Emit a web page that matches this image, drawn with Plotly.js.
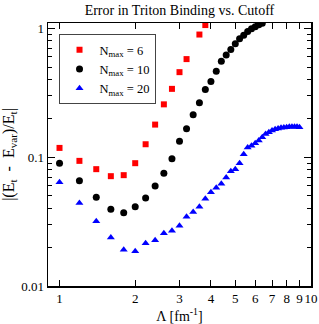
<!DOCTYPE html>
<html>
<head>
<meta charset="utf-8">
<script src="https://cdn.plot.ly/plotly-3.0.1.min.js"></script>
<style>html,body{margin:0;padding:0;background:#fff;}#chart{width:319px;height:324px;}</style>
</head>
<body>
<div id="chart"></div>
<script>
// Cutoff values (fm^-1) and relative errors
var lambda6 = [1.0, 1.2, 1.4, 1.6, 1.8, 2.0, 2.2, 2.4, 2.6, 2.8, 3.0, 3.2, 3.6, 3.8];
var err6 = [0.118, 0.0936, 0.0807, 0.0712, 0.0725, 0.0898, 0.126, 0.179, 0.257, 0.339, 0.457, 0.577, 0.895, 1.06];

var lambda10 = [1.0, 1.2, 1.4, 1.6, 1.8, 2.0, 2.2, 2.4, 2.6, 2.8, 3.0, 3.2, 3.4, 3.6, 3.8, 4.0, 4.2, 4.4, 4.6, 4.8, 5.0, 5.2, 5.4, 5.6, 5.8, 6.0, 6.2, 6.4];
var err10 = [0.0898, 0.0655, 0.0489, 0.0395, 0.0371, 0.0413, 0.0481, 0.0597, 0.0751, 0.097, 0.133, 0.166, 0.213, 0.265, 0.335, 0.386, 0.465, 0.556, 0.622, 0.684, 0.759, 0.83, 0.885, 0.944, 0.991, 1.03, 1.064, 1.097];

var lambda20 = [1.0, 1.2, 1.4, 1.6, 1.8, 2.0, 2.2, 2.4, 2.6, 2.8, 3.0, 3.2, 3.4, 3.6, 3.8, 4.0, 4.2, 4.4, 4.6, 4.8, 5.0, 5.2, 5.4, 5.6, 5.8, 6.0, 6.2, 6.4, 6.6, 6.8, 7.0, 7.2, 7.4, 7.6, 7.8, 8.0, 8.2, 8.4, 8.6, 8.8, 9.0];
var err20 = [0.064, 0.044, 0.0318, 0.0238, 0.0191, 0.0186, 0.0215, 0.0227, 0.0257, 0.0268, 0.0294, 0.0344, 0.0376, 0.0413, 0.0475, 0.0535, 0.0578, 0.0621, 0.0695, 0.0778, 0.0807, 0.0898, 0.1055, 0.1187, 0.1224, 0.1284, 0.1346, 0.143, 0.151, 0.156, 0.161, 0.165, 0.167, 0.169, 0.170, 0.171, 0.172, 0.172, 0.172, 0.172, 0.171];

var seriesNames = ["N<sub>max</sub> = 6", "N<sub>max</sub> = 10", "N<sub>max</sub> = 20"];

var xTicks = [1, 2, 3, 4, 5, 6, 7, 8, 9, 10];
var xTickText = ["1", "2", "3", "4", "5", "6", "7", "8", "9", "10"];
var yTicks = [0.01, 0.1, 1];
var yTickText = ["0.01", "0.1", "1"];
var yMinor = [0.02, 0.03, 0.04, 0.05, 0.06, 0.07, 0.08, 0.09, 0.2, 0.3, 0.4, 0.5, 0.6, 0.7, 0.8, 0.9];

var font = "Liberation Serif, Times New Roman, serif";

var traces = [
  {x: lambda6, y: err6, mode: "markers", name: seriesNames[0],
   marker: {symbol: "square", size: 6, color: "#ff0000"}},
  {x: lambda10, y: err10, mode: "markers", name: seriesNames[1],
   marker: {symbol: "circle", size: 7, color: "#000000"}},
  {x: lambda20, y: err20, mode: "markers", name: seriesNames[2],
   marker: {symbol: "triangle-up", size: 7, color: "#0000ff"}}
];

var layout = {
  width: 319, height: 324,
  margin: {l: 48, r: 8, t: 23, b: 38},
  paper_bgcolor: "#ffffff", plot_bgcolor: "#ffffff",
  font: {family: font, size: 13, color: "#000"},
  title: {text: "Error in Triton Binding vs. Cutoff", font: {family: font, size: 14, color: "#000"},
          x: 0.5625, xanchor: "center", y: 0.985, yanchor: "top"},
  showlegend: true,
  legend: {x: 0.04, y: 0.958, xanchor: "left", yanchor: "top",
           bordercolor: "#444", borderwidth: 1, bgcolor: "#ffffff",
           font: {family: font, size: 12.5, color: "#000"}, tracegroupgap: 0, itemwidth: 30},
  xaxis: {
    type: "log", range: [Math.log10(0.9), 1],
    tickmode: "array", tickvals: xTicks, ticktext: xTickText, tickangle: 0,
    ticks: "inside", ticklen: 6, tickwidth: 1, tickcolor: "#000",
    showline: true, linecolor: "#000", linewidth: 1.5, mirror: "ticks",
    showgrid: false, zeroline: false,
    tickfont: {family: font, size: 13, color: "#000"},
    title: {text: "\u039b [fm<sup>-1</sup>]", font: {family: font, size: 14, color: "#000"}, standoff: 4}
  },
  yaxis: {
    type: "log", range: [-2, Math.log10(1.1)],
    tickmode: "array", tickvals: yTicks, ticktext: yTickText,
    ticks: "inside", ticklen: 7, tickwidth: 1, tickcolor: "#000",
    minor: {tickmode: "array", tickvals: yMinor, ticks: "inside", ticklen: 4, tickwidth: 1, tickcolor: "#000"},
    showline: true, linecolor: "#000", linewidth: 1.5, mirror: "ticks",
    showgrid: false, zeroline: false,
    tickfont: {family: font, size: 13, color: "#000"},
    title: {text: "|(E<sub>t</sub>\u00a0\u00a0-\u00a0\u00a0E<sub>var</sub>)/E<sub>t</sub>|", font: {family: font, size: 16, color: "#000"}, standoff: 5}
  }
};

Plotly.newPlot("chart", traces, layout, {displayModeBar: false, staticPlot: true});
</script>
</body>
</html>
